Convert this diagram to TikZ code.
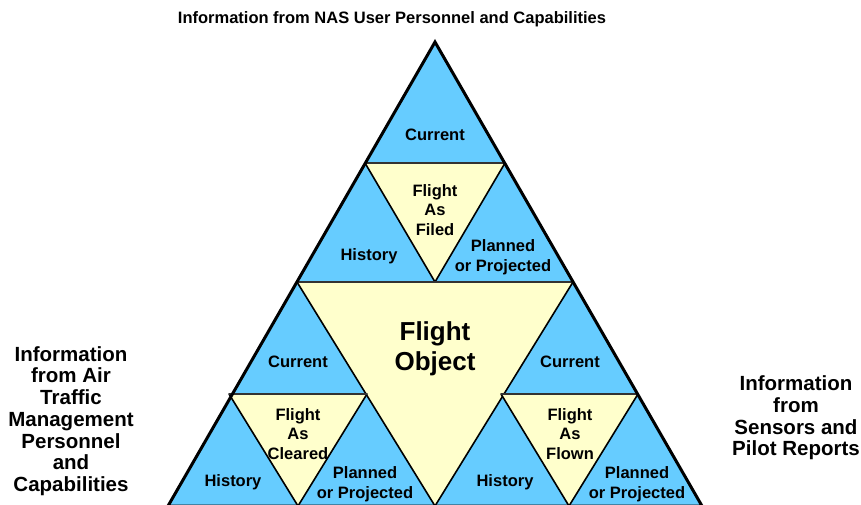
\documentclass[tikz,border=0pt]{standalone}
\usepackage{fontspec}
\setmainfont{Liberation Sans}
\definecolor{skyb}{HTML}{66CCFF}
\definecolor{paley}{HTML}{FFFFCC}
\definecolor{dline}{HTML}{333333}
\begin{document}
\begin{tikzpicture}[x=1pt,y=-1pt,
  lbl/.style={font=\fontsize{16.5}{19.5}\selectfont\bfseries, align=center, inner sep=0pt},
  sidelbl/.style={font=\fontsize{20.5}{21.7}\selectfont\bfseries, align=center, inner sep=0pt},
  titlelbl/.style={font=\fontsize{16.5}{19}\selectfont\bfseries, inner sep=0pt},
  biglbl/.style={font=\fontsize{26}{30}\selectfont\bfseries, align=center, inner sep=0pt},
  yfill/.style={fill=paley, draw=black, line width=1.6pt, line join=round},
  hline/.style={draw=dline, line width=1.8pt},
  outer/.style={draw=black, line width=3pt, line join=miter}]
\useasboundingbox (0,0) rectangle (861,504);
\clip (0,0) rectangle (861,504);
% main vertices
\coordinate (A) at (435,42);
\coordinate (BL) at (168,506);
\coordinate (BR) at (702,506);
\coordinate (ML) at (297,282);
\coordinate (MR) at (573,282);
\coordinate (MB) at (435,506);
% top sub-triangle
\coordinate (T1L) at (365,163);
\coordinate (T1R) at (505,163);
% bottom-left sub-triangle
\coordinate (CL) at (229,394);
\coordinate (CR) at (367,394);
\coordinate (CB) at (298,506);
% bottom-right sub-triangle
\coordinate (DL) at (501,394);
\coordinate (DR) at (638,394);
\coordinate (DB) at (569,506);
% blue base
\fill[skyb] (A) -- (BL) -- (BR) -- cycle;
% yellow inverted triangles
\path[yfill] (ML) -- (MR) -- (MB) -- cycle;
\path[yfill] (T1L) -- (T1R) -- (ML -| A) -- cycle;
\path[yfill] (CL) -- (CR) -- (CB) -- cycle;
\path[yfill] (DL) -- (DR) -- (DB) -- cycle;
% horizontal lines
\draw[hline] (T1L) -- (T1R);
\draw[hline] (ML) -- (MR);
\draw[hline] (CL) -- (CR);
\draw[hline] (DL) -- (DR);
% outer outline
\draw[outer] (A) -- (BL) -- (BR) -- cycle;
% labels
\node[lbl] (cur1) at (435,135) {Current};
\node[lbl] (filed) at (435,210) {Flight\\As\\Filed};
\node[lbl] (hist1) at (369,256) {History};
\node[lbl] (plan1) at (503,257) {Planned\\or Projected};
\node[biglbl] (fo) at (435,349) {Flight\\Object};
\node[lbl] (cur2) at (298,362) {Current};
\node[lbl] (cur3) at (570,362) {Current};
\node[lbl] (cleared) at (298,434) {Flight\\As\\Cleared};
\node[lbl] (flown) at (570,434) {Flight\\As\\Flown};
\node[lbl] (hist2) at (233,482) {History};
\node[lbl] (hist3) at (505,482) {History};
\node[lbl] (plan2) at (365,484) {Planned\\or Projected};
\node[lbl] (plan3) at (637,484) {Planned\\or Projected};
% outside labels
\node[titlelbl] (title) at (392,19) {Information from NAS User Personnel and Capabilities};
\node[sidelbl] (left) at (71,421) {Information\\from Air\\Traffic\\Management\\Personnel\\and\\Capabilities};
\node[sidelbl] (right) at (796,418) {Information\\from\\Sensors and\\Pilot Reports};
\end{tikzpicture}
\end{document}
